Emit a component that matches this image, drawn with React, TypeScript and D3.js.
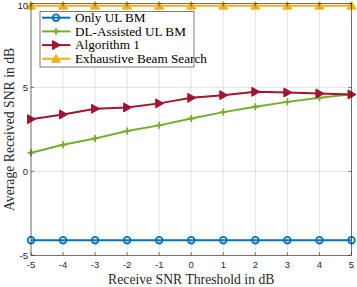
import React from "react";
import * as d3 from "d3";

const thresholds = [-5, -4, -3, -2, -1, 0, 1, 2, 3, 4, 5];
const onlyUL = [-4.1, -4.1, -4.1, -4.1, -4.1, -4.1, -4.1, -4.1, -4.1, -4.1, -4.1];
const dlAssisted = [1.11, 1.58, 1.96, 2.4, 2.74, 3.15, 3.53, 3.85, 4.14, 4.38, 4.6];
const algorithm1 = [3.11, 3.39, 3.73, 3.81, 4.05, 4.38, 4.54, 4.74, 4.7, 4.64, 4.58];
const exhaustive = [9.87, 9.87, 9.87, 9.87, 9.87, 9.87, 9.87, 9.87, 9.87, 9.87, 9.87];
const xTicks = [-5, -4, -3, -2, -1, 0, 1, 2, 3, 4, 5];
const yTicks = [-5, 0, 5, 10];

type Marker = "circle" | "plus" | "triRight" | "triUp";
type Series = { name: string; values: number[]; color: string; marker: Marker };

const series: Series[] = [
  { name: "Only UL BM", values: onlyUL, color: "#0072BD", marker: "circle" },
  { name: "DL-Assisted UL BM", values: dlAssisted, color: "#77AC30", marker: "plus" },
  { name: "Algorithm 1", values: algorithm1, color: "#A2142F", marker: "triRight" },
  { name: "Exhaustive Beam Search", values: exhaustive, color: "#EDB120", marker: "triUp" },
];

const width = 357;
const height = 287;
const margin = { top: 3.5, right: 5.5, bottom: 31.7, left: 31 };

function MarkerShape({ kind, x, y, color }: { kind: Marker; x: number; y: number; color: string }) {
  if (kind === "circle") {
    return <circle cx={x} cy={y} r={3.3} fill="none" stroke={color} strokeWidth={1.8} />;
  }
  if (kind === "plus") {
    return (
      <path
        d={`M${x - 3.5},${y}H${x + 3.5}M${x},${y - 3.5}V${y + 3.5}`}
        stroke={color}
        strokeWidth={1.8}
      />
    );
  }
  if (kind === "triRight") {
    return (
      <path
        d={`M${x - 3.5},${y - 4.5}L${x + 4.5},${y}L${x - 3.5},${y + 4.5}Z`}
        fill={color}
        stroke={color}
        strokeWidth={1}
      />
    );
  }
  return (
    <path
      d={`M${x},${y - 4.5}L${x + 4.5},${y + 3.5}L${x - 4.5},${y + 3.5}Z`}
      fill={color}
      stroke={color}
      strokeWidth={1}
    />
  );
}

export default function App() {
  const x = d3
    .scaleLinear()
    .domain([-5, 5])
    .range([margin.left, width - margin.right]);
  const y = d3
    .scaleLinear()
    .domain([-5, 10])
    .range([height - margin.bottom, margin.top]);

  const line = d3
    .line<number>()
    .x((_, i) => x(thresholds[i]))
    .y((d) => y(d));

  const x0 = x(-5);
  const x1 = x(5);
  const y0 = y(-5);
  const y1 = y(10);
  const tickFont = "'Liberation Sans', Arial, sans-serif";
  const serif = "'Liberation Serif', 'Times New Roman', serif";

  const legend = { x: 40, y: 11.5, w: 154, h: 55.5, first: 6.2, rowH: 13.7 };

  return (
    <svg
      width={width}
      height={height}
      style={{ position: "absolute", left: 0, top: 0, background: "#fff" }}
    >
      {/* grid */}
      <g stroke="#e3e3e3" strokeWidth={1}>
        {xTicks.map((t) => (
          <line key={`gx${t}`} x1={x(t)} x2={x(t)} y1={y0} y2={y1} />
        ))}
        {yTicks.map((t) => (
          <line key={`gy${t}`} x1={x0} x2={x1} y1={y(t)} y2={y(t)} />
        ))}
      </g>

      {/* series */}
      {series.map((s) => (
        <g key={s.name}>
          <path d={line(s.values) ?? ""} fill="none" stroke={s.color} strokeWidth={2} />
          {s.values.map((v, i) => (
            <MarkerShape key={i} kind={s.marker} x={x(thresholds[i])} y={y(v)} color={s.color} />
          ))}
        </g>
      ))}

      {/* axes box */}
      <rect x={x0} y={y1} width={x1 - x0} height={y0 - y1} fill="none" stroke="#262626" strokeWidth={0.6} />
      <g stroke="#262626" strokeWidth={0.6}>
        {xTicks.map((t) => (
          <g key={`tx${t}`}>
            <line x1={x(t)} x2={x(t)} y1={y0} y2={y0 - 3} />
            <line x1={x(t)} x2={x(t)} y1={y1} y2={y1 + 3} />
          </g>
        ))}
        {yTicks.map((t) => (
          <g key={`ty${t}`}>
            <line x1={x0} x2={x0 + 3} y1={y(t)} y2={y(t)} />
            <line x1={x1} x2={x1 - 3} y1={y(t)} y2={y(t)} />
          </g>
        ))}
      </g>

      {/* tick labels */}
      <g fontFamily={tickFont} fontSize={9.5} fill="#262626">
        {xTicks.map((t) => (
          <text key={`lx${t}`} x={x(t)} y={y0 + 13} textAnchor="middle">
            {t}
          </text>
        ))}
        {yTicks.map((t) => (
          <text key={`ly${t}`} x={x0 - 3} y={Math.max(y(t) + 3.5, 8.5)} textAnchor="end">
            {t}
          </text>
        ))}
      </g>

      {/* axis titles */}
      <text
        x={(x0 + x1) / 2}
        y={284}
        textAnchor="middle"
        fontFamily={serif}
        fontSize={13.7}
        fill="#262626"
      >
        Receive SNR Threshold in dB
      </text>
      <text
        transform={`translate(13.5,${(y0 + y1) / 2}) rotate(-90)`}
        textAnchor="middle"
        fontFamily={serif}
        fontSize={13.7}
        fill="#262626"
      >
        Average Received SNR in dB
      </text>

      {/* legend */}
      <rect
        x={legend.x}
        y={legend.y}
        width={legend.w}
        height={legend.h}
        fill="#fff"
        stroke="#262626"
        strokeWidth={0.6}
      />
      {series.map((s, i) => {
        const cy = legend.y + legend.first + i * legend.rowH;
        return (
          <g key={`lg${s.name}`}>
            <line x1={legend.x + 2} x2={legend.x + 30.5} y1={cy} y2={cy} stroke={s.color} strokeWidth={2} />
            <MarkerShape kind={s.marker} x={legend.x + 16} y={cy} color={s.color} />
            <text x={legend.x + 35} y={cy + 4.3} fontFamily={serif} fontSize={13.2} fill="#000">
              {s.name}
            </text>
          </g>
        );
      })}
    </svg>
  );
}
